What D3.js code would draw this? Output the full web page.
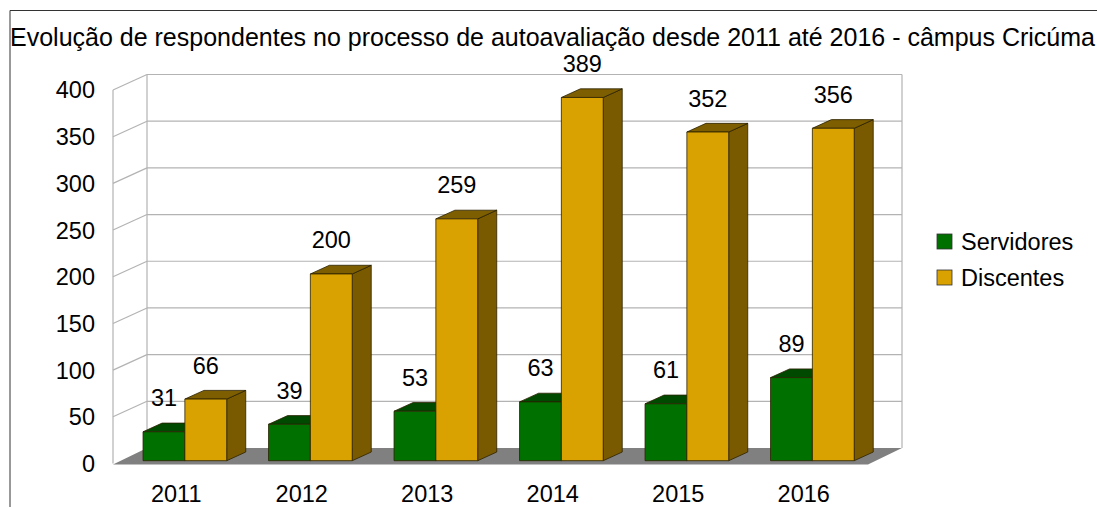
<!DOCTYPE html>
<meta charset="utf-8">
<head>
<script src="https://d3js.org/d3.v7.min.js"></script>
<style>
body { margin: 0; background: #fff; }
svg { display: block; font-family: "Liberation Sans", Arial, sans-serif; }
</style>
</head>
<body>
<script>
// chart values
const years = ["2011", "2012", "2013", "2014", "2015", "2016"]
const seriesNames = ["Servidores", "Discentes"]
const servidores = [31, 39, 53, 63, 61, 89]
const discentes = [66, 200, 259, 389, 352, 356]
const yTicks = [0, 50, 100, 150, 200, 250, 300, 350, 400]
const title = "Evolução de respondentes no processo de autoavaliação desde 2011 até 2016 - câmpus Cricúma"

const width = 1097, height = 507
const fontSize = 23.5

// 3d-ish look: depth vector of the walls
const depth = {dx: 34, dy: -15.5}
const barZ0 = 0.18, barZ1 = 0.74

const colors = {
  Servidores: {front: "#007000", top: "#004a00", side: "#004000"},
  Discentes: {front: "#d9a200", top: "#7d5e00", side: "#7a5a00"}
}

const wallLeft = 113, floorRight = 868

// scales on the front plane (z = 0)
const x0 = d3.scaleBand().domain(years).range([wallLeft + 3, floorRight + 1])
const x1 = d3.scaleBand().domain(seriesNames).range([0, x0.bandwidth()]).paddingOuter(0.5)
const y = d3.scaleLinear().domain([0, 400]).range([463.5, 90])

const P = (px, py, z) => [px + z * depth.dx, py + z * depth.dy]

const svg = d3.select("body").append("svg")
  .attr("width", width)
  .attr("height", height)

// frame around the picture
svg.append("path")
  .attr("d", `M10,${height}V10.5H${width}`)
  .attr("fill", "none")
  .attr("stroke", "#333")
  .attr("stroke-width", 1)

// title
svg.append("text")
  .attr("x", 10)
  .attr("y", 46)
  .attr("font-size", 25)
  .attr("fill", "#000")
  .text(title)

// walls and grid
const grid = svg.append("g")
  .attr("fill", "none")
  .attr("stroke", "#b3b3b3")
  .attr("stroke-width", 1.2)

grid.selectAll("line.back")
  .data(yTicks.filter(d => d > 0))
  .join("line")
    .attr("class", "back")
    .attr("x1", P(wallLeft, y(0), 1)[0])
    .attr("x2", P(floorRight, y(0), 1)[0])
    .attr("y1", d => P(0, y(d), 1)[1])
    .attr("y2", d => P(0, y(d), 1)[1])

grid.selectAll("line.side")
  .data(yTicks.filter(d => d > 0))
  .join("line")
    .attr("class", "side")
    .attr("x1", wallLeft)
    .attr("x2", P(wallLeft, 0, 1)[0])
    .attr("y1", d => y(d))
    .attr("y2", d => P(0, y(d), 1)[1])

const vEdges = [[wallLeft, 0], [wallLeft, 1], [floorRight, 1]]
grid.selectAll("line.edge")
  .data(vEdges)
  .join("line")
    .attr("class", "edge")
    .attr("x1", d => P(d[0], 0, d[1])[0])
    .attr("x2", d => P(d[0], 0, d[1])[0])
    .attr("y1", d => P(0, y(0), d[1])[1])
    .attr("y2", d => P(0, y(400), d[1])[1])

// floor
const f = [P(wallLeft, y(0) + 1, 0), P(floorRight, y(0) + 1, 0), P(floorRight, y(0), 1), P(wallLeft, y(0), 1)]
svg.append("path")
  .attr("d", "M" + f.join("L") + "Z")
  .attr("fill", "#808080")

// y axis labels
svg.append("g")
  .attr("font-size", fontSize)
  .attr("text-anchor", "end")
  .selectAll("text")
  .data(yTicks)
  .join("text")
    .attr("x", 95)
    .attr("y", d => y(d))
    .attr("dy", "0.36em")
    .text(d => d)

// x axis labels
svg.append("g")
  .attr("font-size", fontSize)
  .attr("text-anchor", "middle")
  .selectAll("text")
  .data(years)
  .join("text")
    .attr("x", d => x0(d) + x0.bandwidth() / 2 - 2.5)
    .attr("y", 501.5)
    .text(d => d)

// bars
const rows = years.map((yr, i) => ({year: yr, values: [
  {name: "Servidores", value: servidores[i]},
  {name: "Discentes", value: discentes[i]}
]}))

const bars = svg.append("g")
  .attr("stroke", "#2b2100")
  .attr("stroke-width", 0.8)
  .attr("stroke-linejoin", "round")

rows.forEach(r => {
  r.values.forEach(v => {
    const xl = x0(r.year) + x1(v.name)
    const xr = xl + x1.bandwidth()
    const yt = y(v.value), yb = y(0)
    const c = colors[v.name]
    const a = P(xl, yt, barZ0), b = P(xr, yt, barZ0)
    const bb = P(xr, yb, barZ0), ab = P(xl, yb, barZ0)
    const b1 = P(xr, yt, barZ1), a1 = P(xl, yt, barZ1), bb1 = P(xr, yb, barZ1)
    const g = bars.append("g")
    g.append("path").attr("fill", c.side).attr("d", "M" + [b, b1, bb1, bb].join("L") + "Z")
    g.append("path").attr("fill", c.top).attr("d", "M" + [a, a1, b1, b].join("L") + "Z")
    g.append("path").attr("fill", c.front).attr("d", "M" + [a, b, bb, ab].join("L") + "Z")
  })
})

// value labels
const labels = svg.append("g")
  .attr("font-size", fontSize)
  .attr("text-anchor", "middle")
rows.forEach(r => {
  r.values.forEach(v => {
    const p = P(x0(r.year) + x1(v.name) + x1.bandwidth() / 2, y(v.value), barZ0)
    labels.append("text")
      .attr("x", p[0])
      .attr("y", p[1] - 25.5)
      .text(v.value)
  })
})

// legend
const legend = svg.append("g")
  .attr("font-size", fontSize)
  .selectAll("g")
  .data(seriesNames)
  .join("g")
    .attr("transform", (d, i) => `translate(937,${234 + i * 36})`)

legend.append("rect")
  .attr("width", 15)
  .attr("height", 15)
  .attr("fill", d => colors[d].front)
  .attr("stroke", "#333")
  .attr("stroke-width", 0.8)

legend.append("text")
  .attr("x", 24)
  .attr("y", 7.5)
  .attr("dy", "0.36em")
  .text(d => d)
</script>
</body>
